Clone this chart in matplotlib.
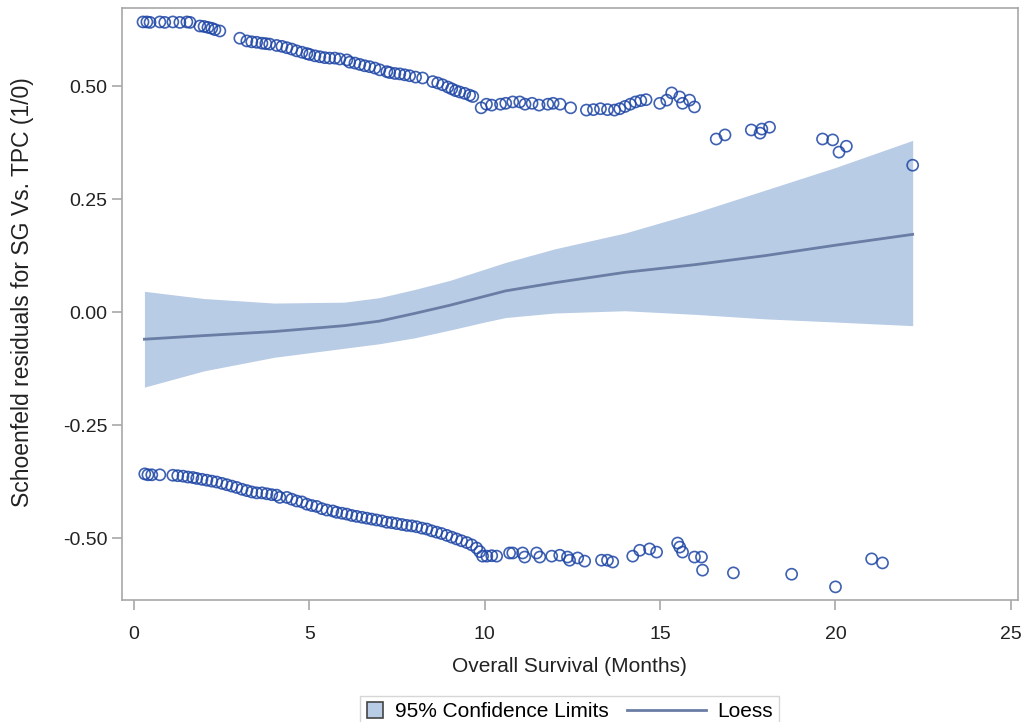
import numpy as np
import matplotlib.pyplot as plt
from matplotlib.patches import Rectangle
from matplotlib.lines import Line2D
from matplotlib.legend_handler import HandlerBase

plt.rcParams['font.family'] = ['Liberation Sans', 'DejaVu Sans']

# residuals, upper band (event = 1)
top_x = [0.26, 0.37, 0.46, 0.74, 0.88, 1.11, 1.31, 1.51, 1.60,
         1.88, 2.00, 2.11, 2.22, 2.31, 2.45, 3.02,
         3.22, 3.36, 3.50, 3.65, 3.76, 3.87,
         4.07, 4.22, 4.36, 4.50, 4.64, 4.79, 4.93,
         5.01, 5.16, 5.30, 5.44, 5.58, 5.73, 5.87, 6.07,
         6.15, 6.30, 6.44, 6.58, 6.72, 6.87, 7.01, 7.21,
         7.29, 7.44, 7.58, 7.72, 7.86, 8.03, 8.23,
         8.52, 8.66, 8.80, 8.95, 9.06, 9.17, 9.29, 9.43, 9.57, 9.66,
         9.90, 10.05, 10.20, 10.45, 10.60, 10.80, 11.00, 11.15, 11.35, 11.55,
         11.80, 11.95, 12.15, 12.45,
         12.90, 13.10, 13.30, 13.50, 13.70, 13.85, 14.00, 14.15, 14.30, 14.45, 14.60,
         14.99, 15.19, 15.33, 15.56, 15.64, 15.84, 15.98,
         16.60, 16.85, 17.60, 17.85, 17.90, 18.12,
         19.63, 19.92, 20.10, 20.31, 22.20]
top_y = [0.642, 0.642, 0.641, 0.642, 0.641, 0.642, 0.641, 0.642, 0.641,
         0.633, 0.632, 0.630, 0.628, 0.625, 0.622, 0.606,
         0.600, 0.598, 0.597, 0.595, 0.594, 0.593,
         0.590, 0.588, 0.585, 0.582, 0.578, 0.575, 0.572,
         0.570, 0.567, 0.565, 0.563, 0.562, 0.562, 0.560, 0.558,
         0.553, 0.551, 0.548, 0.545, 0.543, 0.540, 0.536, 0.532,
         0.530, 0.528, 0.527, 0.525, 0.523, 0.520, 0.518,
         0.510, 0.507, 0.503, 0.498, 0.494, 0.490, 0.487, 0.484, 0.480, 0.477,
         0.452, 0.460, 0.458, 0.460, 0.462, 0.465, 0.465, 0.460, 0.462, 0.458,
         0.460, 0.462, 0.460, 0.452,
         0.447, 0.448, 0.450, 0.448, 0.447, 0.450, 0.455, 0.460, 0.465, 0.468, 0.470,
         0.462, 0.469, 0.485, 0.476, 0.462, 0.469, 0.454,
         0.383, 0.392, 0.403, 0.396, 0.405, 0.409,
         0.383, 0.381, 0.354, 0.367, 0.325]

# residuals, lower band (event = 0)
bot_x = [0.31, 0.40, 0.51, 0.74,
         1.11, 1.25, 1.40, 1.54, 1.68,
         1.79, 1.94, 2.08, 2.22, 2.36, 2.51, 2.65, 2.79, 2.93,
         3.08, 3.22, 3.36, 3.50, 3.65, 3.79, 3.93, 4.07, 4.16,
         4.36, 4.50, 4.64, 4.79, 4.93, 5.07, 5.21, 5.36, 5.50, 5.67,
         5.78, 5.93, 6.07, 6.21, 6.35, 6.50, 6.64, 6.78, 6.92, 7.07, 7.21,
         7.35, 7.49, 7.64, 7.78, 7.92, 8.06, 8.21, 8.35, 8.49, 8.63,
         8.77, 8.92, 9.06, 9.20, 9.34, 9.49, 9.63, 9.77, 9.86, 9.94,
         10.06, 10.20, 10.34,
         10.71, 10.80, 11.08, 11.14, 11.48, 11.57, 11.91, 12.14, 12.36, 12.42,
         12.65, 12.85, 13.33, 13.50, 13.65,
         14.22, 14.42, 14.70, 14.90, 15.50, 15.56, 15.64,
         15.98, 16.18, 16.21, 17.09, 18.75, 20.00, 21.03, 21.34]
bot_y = [-0.358, -0.360, -0.360, -0.360,
         -0.361, -0.362, -0.363, -0.365, -0.366,
         -0.368, -0.370, -0.372, -0.374, -0.376, -0.379, -0.382, -0.385, -0.388,
         -0.392, -0.395, -0.398, -0.400, -0.400, -0.402, -0.404, -0.405, -0.410,
         -0.410, -0.414, -0.418, -0.420, -0.425, -0.428, -0.430, -0.435, -0.438, -0.440,
         -0.443, -0.445, -0.447, -0.450, -0.452, -0.454, -0.456, -0.458, -0.460, -0.462, -0.465,
         -0.466, -0.468, -0.470, -0.472, -0.473, -0.475, -0.478, -0.480, -0.484, -0.487,
         -0.490, -0.494, -0.498, -0.502, -0.506, -0.510, -0.515, -0.522, -0.530, -0.540,
         -0.540, -0.539, -0.540,
         -0.533, -0.533, -0.533, -0.542, -0.533, -0.542, -0.540, -0.538, -0.542, -0.549,
         -0.544, -0.551, -0.549, -0.549, -0.553,
         -0.540, -0.527, -0.524, -0.531, -0.511, -0.520, -0.531,
         -0.542, -0.542, -0.571, -0.577, -0.580, -0.608, -0.546, -0.555]

# loess fit and 95% limits
fit_x = [0.3, 2, 4, 6, 7, 8, 9, 10, 10.6, 12, 14, 16, 18, 20, 22.2]
fit_y = [-0.060, -0.052, -0.043, -0.030, -0.020, -0.003, 0.015, 0.035, 0.047,
         0.065, 0.088, 0.105, 0.125, 0.148, 0.172]
fit_hi = [0.046, 0.030, 0.020, 0.022, 0.032, 0.050, 0.070, 0.095, 0.110,
          0.140, 0.175, 0.220, 0.270, 0.320, 0.380]
fit_lo = [-0.166, -0.130, -0.100, -0.080, -0.070, -0.057, -0.040, -0.022, -0.012,
          -0.002, 0.003, -0.005, -0.015, -0.022, -0.030]

band_col = '#b9cce5'
line_col = '#6a7da4'
mark_col = '#1d45a5'
gray = '#a8a8a8'
txt = '#222222'


class SquareHandler(HandlerBase):
    # small square swatch, narrower than the line handle
    def legend_artist(self, legend, orig_handle, fontsize, handlebox):
        s = fontsize * 0.75
        handlebox.width = s + 2
        r = Rectangle((1, -handlebox.ydescent + (handlebox.height - s) / 2), s, s,
                      facecolor=band_col, edgecolor='#444444', lw=1.2,
                      transform=handlebox.get_transform())
        handlebox.add_artist(r)
        return r


fig = plt.figure(figsize=(10.22, 7.22), dpi=100)
ax = fig.add_axes([0.119, 0.169, 0.877, 0.820])

ax.fill_between(fit_x, fit_lo, fit_hi, color=band_col, lw=0, zorder=1)
ax.plot(fit_x, fit_y, color=line_col, lw=2, zorder=2)
ax.scatter(top_x + bot_x, top_y + bot_y, s=64, facecolors='none',
           edgecolors=mark_col, linewidths=1.2, alpha=0.85, zorder=3)

ax.set_xlim(-0.35, 25.2)
ax.set_ylim(-0.637, 0.673)
ax.set_xticks([0, 5, 10, 15, 20, 25])
ax.set_yticks([-0.5, -0.25, 0, 0.25, 0.5])
ax.set_yticklabels(['-0.50', '-0.25', '0.00', '0.25', '0.50'])
for s in ax.spines.values():
    s.set_color(gray)
    s.set_linewidth(1.2)
ax.tick_params(colors=gray, labelcolor=txt, length=7, width=1.2,
               labelsize=14)
ax.tick_params(axis='x', pad=12)
ax.tick_params(axis='y', pad=3)
ax.set_xlabel('Overall Survival (Months)', fontsize=15, color=txt)
ax.xaxis.set_label_coords(0.5, -0.097)
ax.set_ylabel('Schoenfeld residuals for SG Vs. TPC (1/0)', fontsize=16.5,
              color=txt)
ax.yaxis.set_label_coords(-0.098, 0.52)

handles = [Rectangle((0, 0), 1, 1), Line2D([], [], color=line_col, lw=2)]
leg = fig.legend(handles, ['95% Confidence Limits', 'Loess'], ncol=2,
                 loc='lower center', bbox_to_anchor=(0.557, -0.022),
                 fontsize=15, frameon=True, fancybox=False,
                 handlelength=3.8, handletextpad=0.5, columnspacing=0.9,
                 borderpad=0.3, handler_map={Rectangle: SquareHandler()})
leg.get_frame().set_edgecolor('#cccccc')

fig.savefig('out.png', dpi=100)
